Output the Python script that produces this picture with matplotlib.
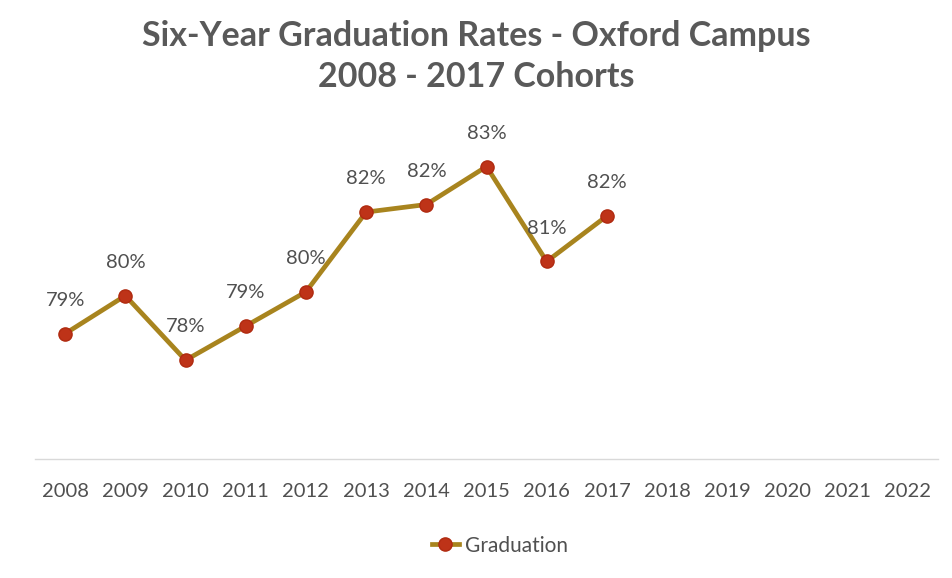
import matplotlib
matplotlib.use("Agg")
import matplotlib.pyplot as plt

years = [str(y) for y in range(2008, 2023)]
grad_years = [str(y) for y in range(2008, 2018)]
grad_rate = [78.65, 79.65, 77.95, 78.85, 79.75, 81.85, 82.05, 83.05, 80.55, 81.75]
labels = ["79%", "80%", "78%", "79%", "80%", "82%", "82%", "83%", "81%", "82%"]

plt.rcParams['font.family'] = ['Lato', 'DejaVu Sans']

fig = plt.figure(figsize=(9.52, 5.78), dpi=100)
ax = fig.add_axes([0.0368, 0.2059, 0.9485, 0.552])

x_all = list(range(len(years)))
x = [years.index(y) for y in grad_years]
line, = ax.plot(x, grad_rate, color='#A8841E', lw=3.4, marker='o', markersize=9.5,
                markerfacecolor='#BE3318', markeredgecolor='#B02A10', markeredgewidth=1,
                label='Graduation', zorder=3)

for xi, v, lab in zip(x, grad_rate, labels):
    ax.annotate(lab, (xi, v), xytext=(0, 24), textcoords='offset points',
                ha='center', va='center', fontsize=14.5, color='#505050')

ax.set_xlim(-0.5, len(years) - 0.5)
ax.set_ylim(75.35, 83.75)
ax.set_xticks(x_all)
ax.set_xticklabels(years, fontsize=14.5, color='#505050')
ax.set_yticks([])
for s in ['top', 'right', 'left']:
    ax.spines[s].set_visible(False)
ax.spines['bottom'].set_color('#D9D9D9')
ax.spines['bottom'].set_linewidth(1)
ax.tick_params(axis='x', length=0, pad=17)

fig.text(0.5, 0.938, "Six-Year Graduation Rates - Oxford Campus", ha='center', va='center',
         fontsize=24.5, fontweight='bold', color='#595959')
fig.text(0.5, 0.866, "2008 - 2017 Cohorts", ha='center', va='center',
         fontsize=24.5, fontweight='bold', color='#595959')

fig.legend(handles=[line], loc='center', bbox_to_anchor=(0.525, 0.056), frameon=False,
           fontsize=15, labelcolor='#505050', handlelength=1.3, handletextpad=0.3)

fig.savefig("out.png", dpi=100, facecolor='white')
